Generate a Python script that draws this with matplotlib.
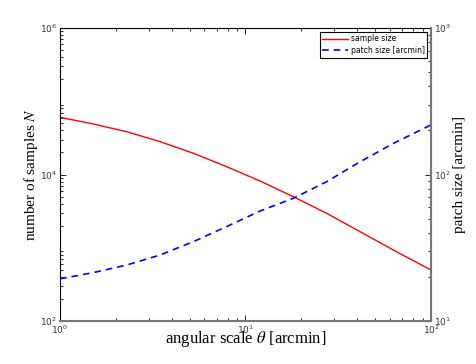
import matplotlib.pyplot as plt
from matplotlib.ticker import LogLocator

plt.rcParams['mathtext.fontset'] = 'stix'

# angular scale theta [arcmin]
theta = [1.0, 1.513, 2.288, 3.461, 5.232, 7.914, 11.97, 18.10, 27.38, 41.43, 62.65, 100.0]
# number of samples N (left axis)
sample_size = [60400, 48900, 38400, 28100, 19500, 12800, 8150, 4980, 2950, 1660, 931, 497]
# patch size [arcmin] (right axis)
patch_size = [19.4, 21.4, 24.1, 28.2, 34.8, 44.1, 56.3, 68.8, 89.3, 122, 163, 218]

fig = plt.figure(figsize=(4.77, 3.64), dpi=100)
ax = fig.add_axes([60 / 477, 1 - 321 / 364, 371 / 477, 293 / 364])
ax2 = ax.twinx()

l1, = ax.plot(theta, sample_size, color='red', lw=1.0, label='sample size')
l2, = ax2.plot(theta, patch_size, color='blue', lw=1.2, ls=(0, (4, 3)),
               label='patch size [arcmin]')

ax.set_xscale('log')
ax.set_yscale('log')
ax2.set_yscale('log')
ax.set_xlim(1, 100)
ax.set_ylim(1e2, 1e6)
ax2.set_ylim(1e1, 1e3)

ax.set_yticks([1e2, 1e4, 1e6])
ax2.set_yticks([1e1, 1e2, 1e3])
ax.set_xticks([1, 10, 100])
ax.yaxis.set_minor_locator(LogLocator(base=10, subs=range(2, 10), numticks=20))
ax2.yaxis.set_minor_locator(LogLocator(base=10, subs=range(2, 10), numticks=20))

for a in (ax, ax2):
    a.tick_params(which='both', direction='in', labelsize=6.5, labelcolor='#333333',
                  pad=2, width=0.6)
    a.tick_params(which='major', length=4)
    a.tick_params(which='minor', length=2)
ax.tick_params(which='both', top=True, right=False)
ax2.tick_params(which='both', left=False, right=True)

ax.spines['left'].set_color('black')
ax.spines['top'].set_color('black')
for sp in ('bottom', 'right'):
    ax.spines[sp].set_color('#777777')
    ax2.spines[sp].set_color('#777777')
    ax2.spines[sp].set_linewidth(1.5)
ax2.spines['left'].set_visible(False)
ax2.spines['top'].set_visible(False)

serif = ['Liberation Serif', 'DejaVu Serif']
ax.set_xlabel(r'angular scale $\theta$ [arcmin]', fontsize=12, family=serif)
ax.set_ylabel(r'number of samples $N$', fontsize=11, family=serif)
ax2.set_ylabel('patch size [arcmin]', fontsize=11, family=serif)
ax.xaxis.set_label_coords(0.5, -0.062)
ax.xaxis.label.set_va('center')
ax.yaxis.set_label_coords(-0.077, 0.5)
ax.yaxis.label.set_va('center')
ax2.yaxis.set_label_coords(1.077, 0.5)
ax2.yaxis.label.set_va('center')

leg = ax2.legend(handles=[l1, l2], loc='upper right', fontsize=5.5, frameon=True,
                 fancybox=False, edgecolor='black', framealpha=1,
                 borderpad=0.35, handlelength=3.4, handletextpad=0.3,
                 labelspacing=0.35, borderaxespad=0.5)
leg.get_frame().set_linewidth(0.8)

fig.savefig('out.png', dpi=100)
